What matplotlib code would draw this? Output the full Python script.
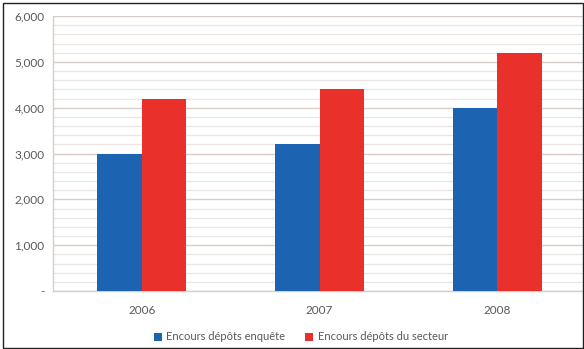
import matplotlib
matplotlib.use("Agg")
import matplotlib.pyplot as plt
import matplotlib.ticker as ticker
import numpy as np

years = ["2006", "2007", "2008"]
encours_enquete = [3000, 3200, 4000]
encours_secteur = [4200, 4400, 5200]
series_labels = ["Encours dépôts enquête", "Encours dépôts du secteur"]

BLUE = "#1C64B2"
RED = "#E9302A"
TEXT = "#595959"

plt.rcParams["font.family"] = ["Lato", "DejaVu Sans"]


@ticker.FuncFormatter
def accounting_formatter(y, pos):
    # zero is shown as a dash, like an accounting number format
    return "-" if y == 0 else f"{int(y):,}"


fig = plt.figure(figsize=(5.84, 3.49), dpi=100)
ax = fig.add_axes([53 / 584, 1 - 291 / 349, 533 / 584, 275 / 349])

x = np.arange(len(years))
width = 0.25
ax.bar(x - width / 2, encours_enquete, width, color=BLUE, label=series_labels[0], zorder=3)
ax.bar(x + width / 2, encours_secteur, width, color=RED, label=series_labels[1], zorder=3)

ax.set_xlim(-0.5, 2.5)
ax.set_ylim(0, 6000)
ax.yaxis.set_major_locator(ticker.MultipleLocator(1000))
ax.yaxis.set_minor_locator(ticker.MultipleLocator(200))
ax.yaxis.set_major_formatter(accounting_formatter)
ax.grid(which="major", axis="y", color="#d8cdc8", linewidth=1.0, zorder=0)
ax.grid(which="minor", axis="y", color="#ebe6e3", linewidth=0.9, zorder=0)

ax.set_xticks(x)
ax.set_xticklabels(years)
ax.tick_params(axis="both", which="both", length=0, labelsize=8.5, colors=TEXT)
ax.tick_params(axis="x", pad=10)
ax.tick_params(axis="y", pad=6)

for side in ["top", "right"]:
    ax.spines[side].set_visible(False)
for side in ["left", "bottom"]:
    ax.spines[side].set_color("#d8cdc8")
    ax.spines[side].set_linewidth(1.0)

fig.legend(
    loc="center",
    bbox_to_anchor=(301 / 584, 1 - 337 / 349),
    ncol=2,
    frameon=False,
    fontsize=8,
    handlelength=0.7,
    handleheight=0.7,
    handletextpad=0.4,
    columnspacing=1.8,
    labelcolor=TEXT,
)

# thin black frame around the figure
fig.patches.append(
    plt.Rectangle((2.5 / 584, 1.5 / 349), 580 / 584, 345 / 349,
                  transform=fig.transFigure, fill=False,
                  edgecolor="#222222", linewidth=1.0)
)

fig.savefig("out.png", dpi=100)
